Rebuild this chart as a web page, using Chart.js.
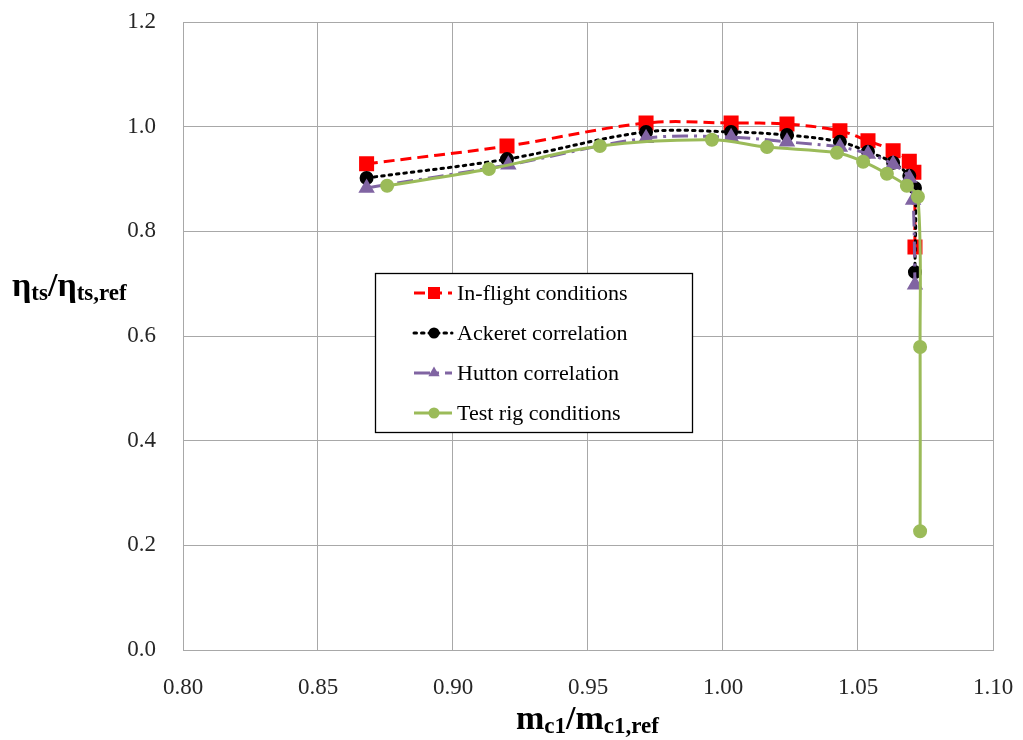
<!DOCTYPE html>
<html>
<head>
<meta charset="utf-8">
<script src="https://cdn.jsdelivr.net/npm/chart.js@4/dist/chart.umd.min.js"></script>
<style>
  html, body { margin: 0; padding: 0; background: #fff; }
  #wrap { position: relative; width: 1023px; height: 740px; }
  .ttl { position: absolute; font-family: "Liberation Serif", serif; font-weight: bold; color: #000; white-space: nowrap; line-height: 1; }
  .ttl .big { font-size: 34px; }
  .ttl sub { font-size: 23px; vertical-align: -4px; }
  #ytitle { left: 12px; top: 268px; }
  #xtitle { left: 516px; top: 701px; }
</style>
</head>
<body>
<div id="wrap">
  <canvas id="c" width="1023" height="740"></canvas>
  <div class="ttl" id="ytitle"><span class="big">η</span><sub>ts</sub><span class="big">/η</span><sub>ts,ref</sub></div>
  <div class="ttl" id="xtitle"><span class="big">m</span><sub>c1</sub><span class="big">/m</span><sub>c1,ref</sub></div>
</div>
<script>
// 값은 그림에서 읽은 추정치
const seriesNames = ["In-flight conditions", "Ackeret correlation", "Hutton correlation", "Test rig conditions"];

const inflightX = [0.868, 0.920, 0.9715, 1.003, 1.0237, 1.0433, 1.0537, 1.063, 1.069, 1.0707, 1.0711];
const inflightY = [0.929, 0.963, 1.007, 1.007, 1.005, 0.992, 0.973, 0.954, 0.934, 0.913, 0.770];

const ackeretX = [0.868, 0.920, 0.9715, 1.003, 1.0237, 1.0433, 1.0537, 1.063, 1.069, 1.0711, 1.0711];
const ackeretY = [0.902, 0.938, 0.990, 0.990, 0.984, 0.971, 0.952, 0.931, 0.906, 0.883, 0.722];

const huttonX = [0.868, 0.9205, 0.9715, 1.003, 1.0237, 1.0433, 1.0537, 1.063, 1.069, 1.0704, 1.0711];
const huttonY = [0.883, 0.927, 0.978, 0.980, 0.971, 0.961, 0.948, 0.928, 0.902, 0.860, 0.698];

const rigX = [0.8756, 0.9133, 0.9544, 0.9959, 1.0163, 1.0422, 1.0519, 1.0607, 1.0681, 1.0722, 1.073, 1.073];
const rigY = [0.887, 0.919, 0.963, 0.975, 0.961, 0.950, 0.933, 0.910, 0.887, 0.866, 0.579, 0.227];

const xTicks = [0.80, 0.85, 0.90, 0.95, 1.00, 1.05, 1.10];
const yTicks = [0.0, 0.2, 0.4, 0.6, 0.8, 1.0, 1.2];

const pts = (xs, ys) => xs.map((x, i) => ({ x, y: ys[i] }));
const FONT = "'Liberation Serif', serif";
const GRID = "#a8a8a8";

const datasets = [
  { label: seriesNames[0], data: pts(inflightX, inflightY), borderColor: "#ff0000", backgroundColor: "#ff0000",
    borderWidth: 3, borderDash: [11, 6], pointStyle: "rect", pointRadius: 8.5, order: 4 },
  { label: seriesNames[1], data: pts(ackeretX, ackeretY), borderColor: "#000000", backgroundColor: "#000000",
    borderWidth: 3, borderDash: [2.5, 5], borderCapStyle: "round", pointStyle: "circle", pointRadius: 5.5, order: 3 },
  { label: seriesNames[2], data: pts(huttonX, huttonY), borderColor: "#8064a2", backgroundColor: "#8064a2",
    borderWidth: 3, borderDash: [16, 6, 3, 6], pointStyle: "triangle", pointRadius: 6.5, order: 2 },
  { label: seriesNames[3], data: pts(rigX, rigY), borderColor: "#9bbb59", backgroundColor: "#9bbb59",
    borderWidth: 3, pointStyle: "circle", pointRadius: 5.5, order: 1 },
];

// 플롯 안쪽 범례 박스 (엑셀식)
const boxLegend = {
  id: "boxLegend",
  afterDraw(chart) {
    const ctx = chart.ctx;
    const L = 375, T = 273, R = 692, B = 432;
    ctx.save();
    ctx.fillStyle = "#fff";
    ctx.fillRect(L, T, R - L, B - T);
    ctx.strokeStyle = "#000";
    ctx.lineWidth = 1.3;
    ctx.strokeRect(L + 0.5, T + 0.5, R - L, B - T);
    chart.data.datasets.forEach((ds, i) => {
      const y = 293 + i * 40;
      ctx.save();
      ctx.strokeStyle = ds.borderColor;
      ctx.lineWidth = ds.borderWidth;
      ctx.lineCap = ds.borderCapStyle || "butt";
      ctx.setLineDash(ds.borderDash || []);
      ctx.beginPath();
      ctx.moveTo(414, y);
      ctx.lineTo(452, y);
      ctx.stroke();
      ctx.restore();
      ctx.fillStyle = ds.backgroundColor;
      Chart.helpers.drawPoint(ctx, { pointStyle: ds.pointStyle, radius: ds.pointRadius, borderWidth: 0 }, 434, y);
      ctx.fillStyle = "#000";
      ctx.font = "22px " + FONT;
      ctx.textBaseline = "middle";
      ctx.fillText(ds.label, 457, y + 1);
    });
    ctx.restore();
  },
};

new Chart(document.getElementById("c"), {
  type: "line",
  data: { datasets },
  options: {
    responsive: false, animation: false, devicePixelRatio: 1,
    layout: { padding: { top: 22, right: 30, left: 0, bottom: 0 } },
    elements: { line: { tension: 0.35, fill: false }, point: { borderWidth: 0, hoverRadius: 6 } },
    plugins: { legend: { display: false }, tooltip: { enabled: false } },
    scales: {
      x: {
        type: "linear", min: 0.8, max: 1.1,
        afterFit: (s) => { s.height = 90; s.paddingLeft = 0; s.paddingRight = 0; },
        afterBuildTicks: (s) => { s.ticks = xTicks.map((v) => ({ value: v })); },
        ticks: { padding: 24, color: "#262626", font: { family: FONT, size: 23 }, callback: (v) => v.toFixed(2) },
        grid: { color: GRID, lineWidth: 1, drawTicks: false },
        border: { color: GRID },
      },
      y: {
        type: "linear", min: 0, max: 1.2,
        afterFit: (s) => { s.width = 183; s.paddingTop = 0; s.paddingBottom = 0; },
        afterBuildTicks: (s) => { s.ticks = yTicks.map((v) => ({ value: v })); },
        ticks: { padding: 27, color: "#262626", font: { family: FONT, size: 23 }, callback: (v) => v.toFixed(1) },
        grid: { color: GRID, lineWidth: 1, drawTicks: false },
        border: { color: GRID },
      },
    },
  },
  plugins: [boxLegend],
});
</script>
</body>
</html>
